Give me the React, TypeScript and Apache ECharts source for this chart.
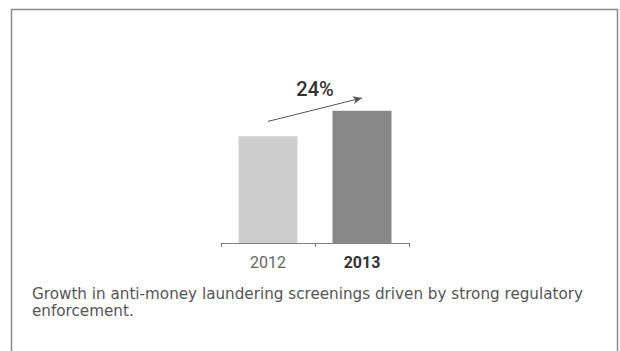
import React, { useEffect, useRef } from "react";
import * as echarts from "echarts";

const categories = ["2012", "2013"];
const values = [100, 124];
const growthLabel = "24%";
const arrowFrom = 114;
const arrowTo = 136;
const caption = "Growth in anti-money laundering screenings driven by strong regulatory\nenforcement.";

export default function App() {
  const ref = useRef<HTMLDivElement>(null);
  useEffect(() => {
    const chart = echarts.init(ref.current!, null, { renderer: "svg" });
    chart.setOption({
      animation: false,
      backgroundColor: "#ffffff",
      grid: { left: 221, width: 188, top: 83, height: 160 },
      xAxis: {
        type: "category",
        data: categories,
        axisLine: { lineStyle: { color: "#808080", width: 1 } },
        axisTick: { show: true, length: 4, lineStyle: { color: "#808080" } },
        axisLabel: {
          margin: 11,
          fontFamily: "Roboto",
          fontSize: 16,
          formatter: (v: string) => (v === categories[1] ? `{b|${v}}` : `{a|${v}}`),
          rich: {
            a: { color: "#666666", fontSize: 16, fontFamily: "Roboto" },
            b: { color: "#333333", fontSize: 16, fontWeight: "bold", fontFamily: "Roboto" },
          },
        },
      },
      yAxis: { type: "value", min: 0, max: 150, show: false, splitLine: { show: false } },
      series: [
        {
          type: "bar",
          barWidth: 59,
          data: values.map((v, i) => ({
            value: v,
            itemStyle: { color: i === 0 ? "#cdcdcd" : "#898989" },
          })),
          markLine: {
            silent: true,
            symbol: ["none", "arrow"],
            symbolSize: [6, 9],
            label: { show: false },
            lineStyle: { color: "#555555", width: 1, type: "solid" },
            data: [[{ coord: [categories[0], arrowFrom] }, { coord: [categories[1], arrowTo] }]],
          },
        },
      ],
      graphic: [
        {
          type: "rect",
          shape: { x: 11.5, y: 9.5, width: 606, height: 360 },
          style: { fill: "none", stroke: "#8a8a8a", lineWidth: 1.5 },
        },
        {
          type: "text",
          x: 315,
          y: 89,
          style: {
            text: growthLabel,
            fill: "#333333",
            font: "500 20px Roboto",
            align: "center",
            verticalAlign: "middle",
          },
        },
        {
          type: "text",
          x: 32,
          y: 285,
          style: {
            text: caption,
            fill: "#555555",
            font: "15.2px 'DejaVu Sans'",
            lineHeight: 17,
            align: "left",
            verticalAlign: "top",
          },
        },
      ],
    });
    return () => chart.dispose();
  }, []);
  return (
    <div
      ref={ref}
      style={{ position: "absolute", left: 0, top: 0, width: 620, height: 351 }}
    />
  );
}
